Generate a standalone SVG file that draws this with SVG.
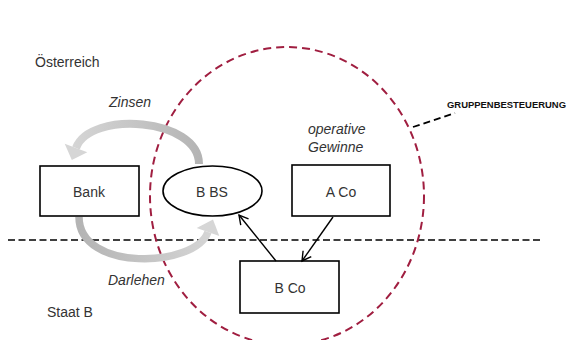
<svg xmlns="http://www.w3.org/2000/svg" width="568" height="340" viewBox="0 0 568 340">
<defs>
<style>
.box{fill:#fff;stroke:#000;stroke-width:1.6}
.lbl{font-family:"Liberation Sans",Arial,sans-serif;font-size:14px;fill:#333;text-anchor:middle}
.it{font-family:"Liberation Sans",Arial,sans-serif;font-size:14px;font-style:italic;fill:#333}
.conn{fill:none;stroke:#000;stroke-width:1.4}
</style>
<marker id="ah" markerWidth="12" markerHeight="12" refX="10" refY="6" orient="auto" markerUnits="userSpaceOnUse">
<path d="M1,1 L10,6 L1,11" fill="none" stroke="#000" stroke-width="1.4"/>
</marker>
<linearGradient id="g1" x1="200" y1="0" x2="70" y2="0" gradientUnits="userSpaceOnUse">
<stop offset="0" stop-color="#b4b4b4"/><stop offset="1" stop-color="#d6d6d6"/>
</linearGradient>
<linearGradient id="g2" x1="79" y1="0" x2="215" y2="0" gradientUnits="userSpaceOnUse">
<stop offset="0" stop-color="#b4b4b4"/><stop offset="1" stop-color="#d6d6d6"/>
</linearGradient>
</defs>
<rect width="568" height="340" fill="#fff"/>

<g id="regions">
<line x1="8" y1="240" x2="541" y2="240" stroke="#000" stroke-width="1.5" stroke-dasharray="7,3.5"/>
<ellipse id="group-circle" cx="287" cy="196" rx="137" ry="149" fill="none" stroke="#a01e40" stroke-width="2" stroke-dasharray="8,5"/>
<text class="it" x="35" y="67" style="font-style:normal" font-size="14.5">Österreich</text>
<text class="it" x="47" y="317" style="font-style:normal">Staat B</text>
</g>

<g id="flows">
<path d="M199,164 C199,118 90,110 76,148" fill="none" stroke="url(#g1)" stroke-width="8"/>
<polygon points="87.3,152.2 64.7,143.8 71.8,160" fill="#d6d6d6"/>
<path d="M79,217 C79,272 195,268 208,232" fill="none" stroke="url(#g2)" stroke-width="7.5"/>
<polygon points="219.3,236.1 196.7,227.9 213,219.5" fill="#d6d6d6"/>
<text class="it" x="109" y="107">Zinsen</text>
<text class="it" x="108" y="285">Darlehen</text>
</g>

<g id="bank">
<rect class="box" x="40" y="166" width="99" height="50"/>
<text class="lbl" x="89" y="197">Bank</text>
</g>

<g id="bbs">
<ellipse class="box" cx="212.5" cy="191" rx="49.5" ry="25"/>
<text class="lbl" x="212" y="197">B BS</text>
</g>

<g id="aco">
<rect class="box" x="292" y="165" width="98" height="51"/>
<text class="lbl" x="341" y="197">A Co</text>
<text class="it" x="308" y="134">operative</text>
<text class="it" x="308" y="152">Gewinne</text>
</g>

<g id="bco">
<rect class="box" x="240" y="261" width="99" height="52"/>
<text class="lbl" x="290" y="293">B Co</text>
</g>

<g id="connectors">
<line class="conn" x1="276" y1="261" x2="239" y2="215" marker-end="url(#ah)"/>
<line class="conn" x1="333" y1="217" x2="302" y2="261" marker-end="url(#ah)"/>
<line x1="413" y1="127" x2="455" y2="113" stroke="#000" stroke-width="1.8" stroke-dasharray="7,4"/>
</g>

<g id="group-label">
<text x="447" y="108" font-family="'Liberation Sans',Arial,sans-serif" font-size="8.5" font-weight="bold" fill="#111" textLength="119" lengthAdjust="spacingAndGlyphs">GRUPPENBESTEUERUNG</text>
</g>
</svg>
